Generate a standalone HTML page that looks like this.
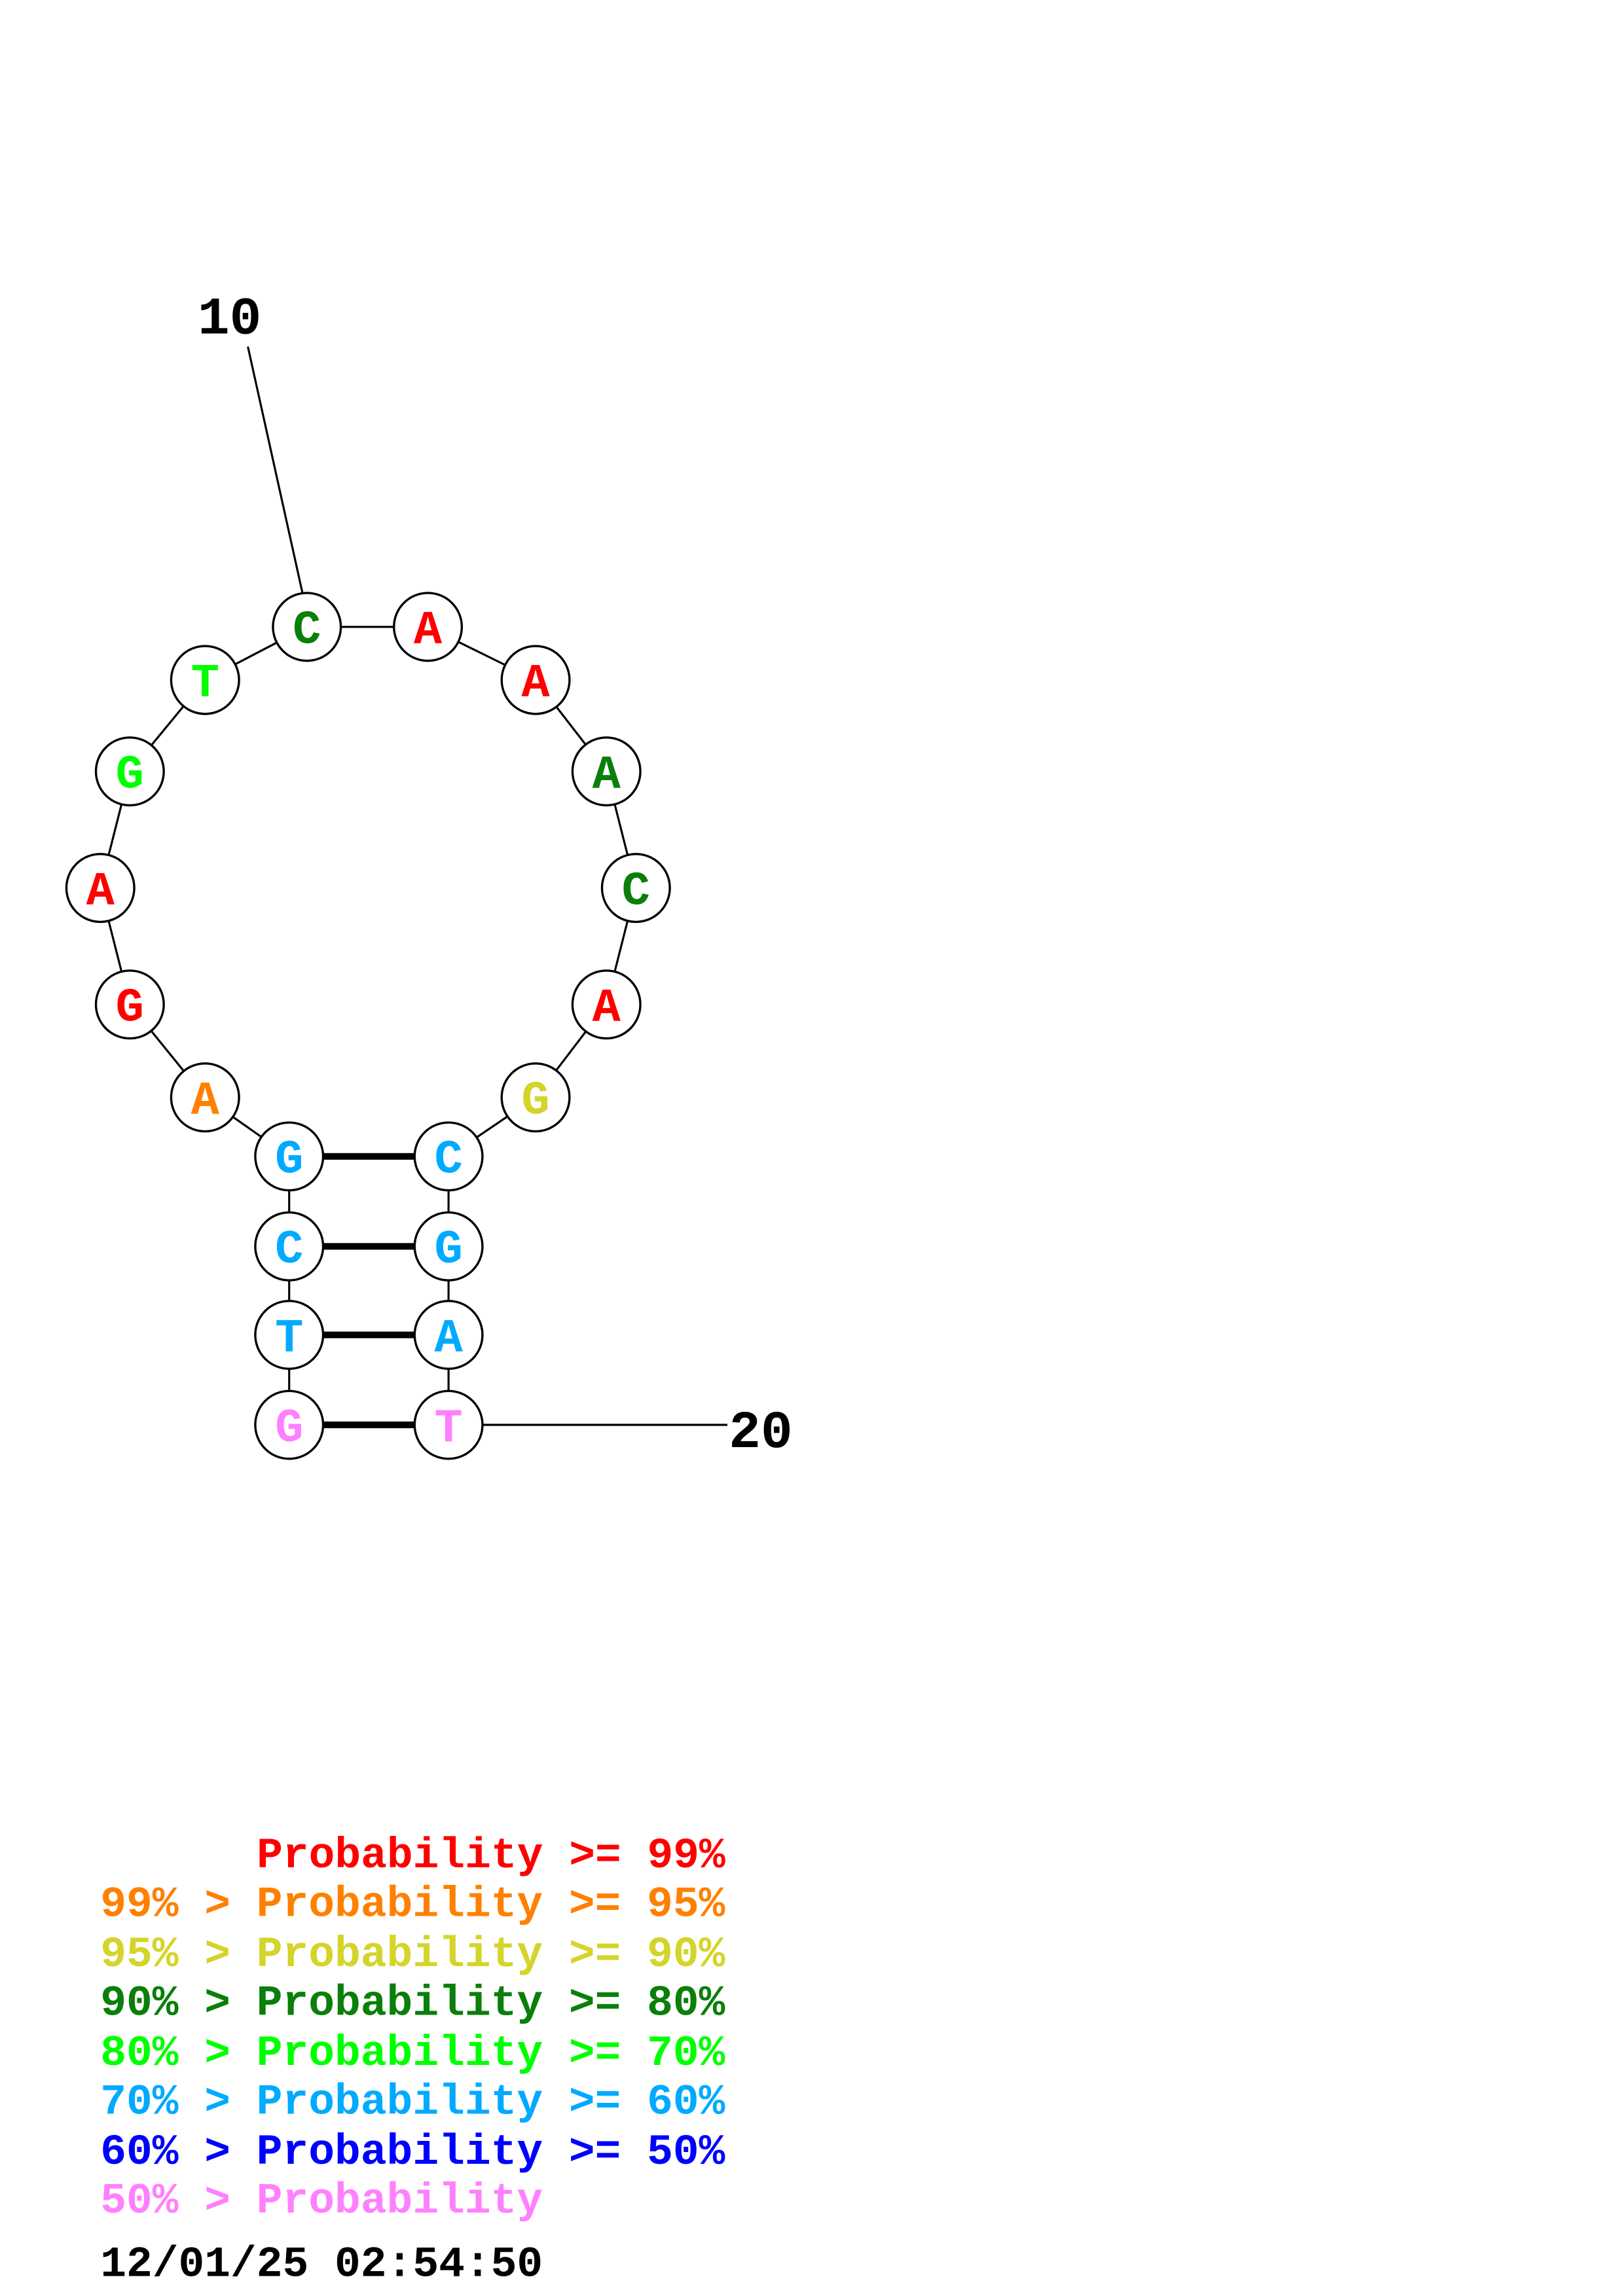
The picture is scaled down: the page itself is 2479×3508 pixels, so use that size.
<!DOCTYPE html>
<html><head><meta charset="utf-8"><style>
html,body{margin:0;padding:0;background:#fff;}
svg{display:block;}
text{font-family:"Liberation Mono",monospace;font-weight:bold;}
</style></head><body>
<svg width="2479" height="3508" viewBox="0 0 1100 1556.6" preserveAspectRatio="none" xmlns="http://www.w3.org/2000/svg">
<rect width="1100" height="1556.6" fill="#fff"/>
<g stroke="#000" stroke-width="1.4" fill="none">
<line x1="168" y1="235" x2="205" y2="402"/>
<line x1="327" y1="966" x2="493" y2="966"/>
<polyline points="196,966 196,905 196,845 196,784 139,744 88,681 68,602 88,523 139,461 208,425 290,425 363,461 411,523 431,602 411,681 363,744 304,784 304,845 304,905 304,966"/>
</g>
<g stroke="#000" stroke-width="4.5">
<line x1="219" y1="784" x2="281" y2="784"/>
<line x1="219" y1="845" x2="281" y2="845"/>
<line x1="219" y1="905" x2="281" y2="905"/>
<line x1="219" y1="966" x2="281" y2="966"/>
</g>
<g stroke="#000" stroke-width="1.5" fill="#fff">
<circle cx="208" cy="425" r="23"/><circle cx="290" cy="425" r="23"/><circle cx="363" cy="461" r="23"/>
<circle cx="411" cy="523" r="23"/><circle cx="431" cy="602" r="23"/><circle cx="411" cy="681" r="23"/>
<circle cx="363" cy="744" r="23"/><circle cx="304" cy="784" r="23"/><circle cx="304" cy="845" r="23"/>
<circle cx="304" cy="905" r="23"/><circle cx="304" cy="966" r="23"/>
<circle cx="139" cy="461" r="23"/><circle cx="88" cy="523" r="23"/><circle cx="68" cy="602" r="23"/>
<circle cx="88" cy="681" r="23"/><circle cx="139" cy="744" r="23"/><circle cx="196" cy="784" r="23"/>
<circle cx="196" cy="845" r="23"/><circle cx="196" cy="905" r="23"/><circle cx="196" cy="966" r="23"/>
</g>
<g font-size="32" text-anchor="middle">
<text x="208" y="436" fill="#0a7f0a">C</text>
<text x="290" y="436" fill="#ff0000">A</text>
<text x="363" y="472" fill="#ff0000">A</text>
<text x="411" y="534" fill="#0a7f0a">A</text>
<text x="431" y="613" fill="#0a7f0a">C</text>
<text x="411" y="692" fill="#ff0000">A</text>
<text x="363" y="755" fill="#d4d42a">G</text>
<text x="304" y="795" fill="#00aaff">C</text>
<text x="304" y="856" fill="#00aaff">G</text>
<text x="304" y="916" fill="#00aaff">A</text>
<text x="304" y="977" fill="#ff80ff">T</text>
<text x="139" y="472" fill="#00ff00">T</text>
<text x="88" y="534" fill="#00ff00">G</text>
<text x="68" y="613" fill="#ff0000">A</text>
<text x="88" y="692" fill="#ff0000">G</text>
<text x="139" y="755" fill="#ff8000">A</text>
<text x="196" y="795" fill="#00aaff">G</text>
<text x="196" y="856" fill="#00aaff">C</text>
<text x="196" y="916" fill="#00aaff">T</text>
<text x="196" y="977" fill="#ff80ff">G</text>
</g>
<g font-size="36" fill="#000">
<text x="134" y="226">10</text>
<text x="494" y="981">20</text>
</g>
<g font-size="29.4" xml:space="preserve">
<text x="174" y="1266" fill="#ff0000">Probability &gt;= 99%</text>
<text x="68" y="1299" fill="#ff8000">99% &gt; Probability &gt;= 95%</text>
<text x="68" y="1333" fill="#d4d42a">95% &gt; Probability &gt;= 90%</text>
<text x="68" y="1366" fill="#0a7f0a">90% &gt; Probability &gt;= 80%</text>
<text x="68" y="1400" fill="#00ff00">80% &gt; Probability &gt;= 70%</text>
<text x="68" y="1433" fill="#00aaff">70% &gt; Probability &gt;= 60%</text>
<text x="68" y="1467" fill="#0000ff">60% &gt; Probability &gt;= 50%</text>
<text x="68" y="1500" fill="#ff80ff">50% &gt; Probability</text>
<text x="68" y="1543" fill="#000">12/01/25 02:54:50</text>
</g>
</svg>
</body></html>
